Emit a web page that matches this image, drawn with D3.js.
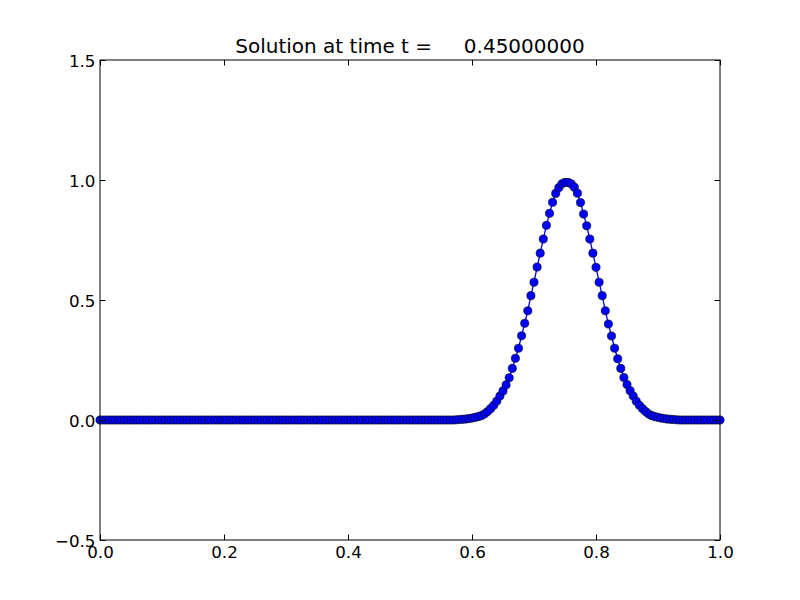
<!DOCTYPE html>
<html>
<head>
<meta charset="utf-8">
<script src="https://cdn.jsdelivr.net/npm/d3@7"></script>
<style>
  html, body { margin: 0; padding: 0; background: #ffffff; }
  svg text { font-family: "DejaVu Sans", sans-serif; fill: #000; }
</style>
</head>
<body>
<script>
const titleText = "Solution at time t =     0.45000000";

const xValues = [
  0.000,0.005,0.010,0.015,0.020,0.025,0.030,0.035,0.040,0.045,
  0.050,0.055,0.060,0.065,0.070,0.075,0.080,0.085,0.090,0.095,
  0.100,0.105,0.110,0.115,0.120,0.125,0.130,0.135,0.140,0.145,
  0.150,0.155,0.160,0.165,0.170,0.175,0.180,0.185,0.190,0.195,
  0.200,0.205,0.210,0.215,0.220,0.225,0.230,0.235,0.240,0.245,
  0.250,0.255,0.260,0.265,0.270,0.275,0.280,0.285,0.290,0.295,
  0.300,0.305,0.310,0.315,0.320,0.325,0.330,0.335,0.340,0.345,
  0.350,0.355,0.360,0.365,0.370,0.375,0.380,0.385,0.390,0.395,
  0.400,0.405,0.410,0.415,0.420,0.425,0.430,0.435,0.440,0.445,
  0.450,0.455,0.460,0.465,0.470,0.475,0.480,0.485,0.490,0.495,
  0.500,0.505,0.510,0.515,0.520,0.525,0.530,0.535,0.540,0.545,
  0.550,0.555,0.560,0.565,0.570,0.575,0.580,0.585,0.590,0.595,
  0.600,0.605,0.610,0.615,0.620,0.625,0.630,0.635,0.640,0.645,
  0.650,0.655,0.660,0.665,0.670,0.675,0.680,0.685,0.690,0.695,
  0.700,0.705,0.710,0.715,0.720,0.725,0.730,0.735,0.740,0.745,
  0.750,0.755,0.760,0.765,0.770,0.775,0.780,0.785,0.790,0.795,
  0.800,0.805,0.810,0.815,0.820,0.825,0.830,0.835,0.840,0.845,
  0.850,0.855,0.860,0.865,0.870,0.875,0.880,0.885,0.890,0.895,
  0.900,0.905,0.910,0.915,0.920,0.925,0.930,0.935,0.940,0.945,
  0.950,0.955,0.960,0.965,0.970,0.975,0.980,0.985,0.990,0.995,
  1.000
];

const yValues = [
  0,0,0,0,0,0,0,0,0,0,
  0,0,0,0,0,0,0,0,0,0,
  0,0,0,0,0,0,0,0,0,0,
  0,0,0,0,0,0,0,0,0,0,
  0,0,0,0,0,0,0,0,0,0,
  0,0,0,0,0,0,0,0,0,0,
  0,0,0,0,0,0,0,0,0,0,
  0,0,0,0,0,0,0,0,0,0,
  0,0,0,0,0,0,0,0,0,0,
  0,0,0,0,0,0,0,0,0,0,
  0,0,0,0,0,0,0,0,0,0,
  0,0,0,0,0,0.001,0.002,0.003,0.004,0.006,
  0.008,0.011,0.014,0.018,0.025,0.035,0.047,0.061,0.079,0.100,
  0.121,0.146,0.176,0.215,0.257,0.299,0.351,0.403,0.455,0.518,
  0.574,0.637,0.695,0.754,0.811,0.861,0.907,0.944,0.968,0.984,
  0.990,0.990,0.984,0.970,0.945,0.906,0.858,0.809,0.754,0.695,
  0.636,0.574,0.518,0.455,0.400,0.350,0.299,0.255,0.215,0.177,
  0.148,0.122,0.100,0.078,0.061,0.047,0.035,0.025,0.018,0.014,
  0.011,0.008,0.006,0.004,0.003,0.002,0.001,0,0,0,
  0,0,0,0,0,0,0,0,0,0,
  0
];

const xTicks = [0.0, 0.2, 0.4, 0.6, 0.8, 1.0];
const xTickLabels = ["0.0", "0.2", "0.4", "0.6", "0.8", "1.0"];
const yTicks = [-0.5, 0.0, 0.5, 1.0, 1.5];
const yTickLabels = ["\u22120.5", "0.0", "0.5", "1.0", "1.5"];

(function () {
const W = 800, H = 600;
const mLeft = 100, mRight = 720, mTop = 60, mBottom = 540;

const svg = d3.select("body").append("svg")
  .attr("width", W).attr("height", H);
svg.append("rect").attr("width", W).attr("height", H).attr("fill", "#fff");

const x = d3.scaleLinear().domain([0, 1]).range([mLeft, mRight]);
const y = d3.scaleLinear().domain([-0.5, 1.5]).range([mBottom, mTop]);

const data = xValues.map((v, i) => ({ x: v, y: yValues[i] }));

svg.append("clipPath").attr("id", "clip")
  .append("rect").attr("x", mLeft - 5).attr("y", mTop)
  .attr("width", mRight - mLeft + 10).attr("height", mBottom - mTop);

const plot = svg.append("g").attr("clip-path", "url(#clip)");

plot.append("path")
  .datum(data)
  .attr("fill", "none")
  .attr("stroke", "#0000ff")
  .attr("stroke-width", 1.3)
  .attr("d", d3.line().x(d => x(d.x)).y(d => y(d.y)));

plot.selectAll("circle")
  .data(data)
  .enter().append("circle")
  .attr("cx", d => x(d.x))
  .attr("cy", d => y(d.y))
  .attr("r", 4.1)
  .attr("fill", "#0000ff")
  .attr("stroke", "#000")
  .attr("stroke-width", 0.6);

const tickLen = 5.5;
const fmtX = (d) => xTickLabels[xTicks.indexOf(d)];
const fmtY = (d) => yTickLabels[yTicks.indexOf(d)];

const axB = svg.append("g").attr("transform", `translate(0,${mBottom})`)
  .call(d3.axisBottom(x).tickValues(xTicks).tickFormat(fmtX).tickSizeInner(-tickLen).tickSizeOuter(0).tickPadding(0));
const axT = svg.append("g").attr("transform", `translate(0,${mTop})`)
  .call(d3.axisTop(x).tickValues(xTicks).tickFormat(() => "").tickSizeInner(-tickLen).tickSizeOuter(0));
const axL = svg.append("g").attr("transform", `translate(${mLeft},0)`)
  .call(d3.axisLeft(y).tickValues(yTicks).tickFormat(fmtY).tickSizeInner(-tickLen).tickSizeOuter(0).tickPadding(0));
const axR = svg.append("g").attr("transform", `translate(${mRight},0)`)
  .call(d3.axisRight(y).tickValues(yTicks).tickFormat(() => "").tickSizeInner(-tickLen).tickSizeOuter(0));

[axB, axT, axL, axR].forEach(g => {
  g.select(".domain").remove();
  g.selectAll(".tick line").attr("stroke", "#000").attr("stroke-width", 1);
});

axB.selectAll(".tick text")
  .attr("font-size", "16.7px")
  .attr("font-family", "DejaVu Sans")
  .attr("y", 17.5).attr("dy", 0);
axL.selectAll(".tick text")
  .attr("font-size", "16.7px")
  .attr("font-family", "DejaVu Sans")
  .attr("x", -4.5).attr("dy", "0.36em");

svg.append("rect")
  .attr("x", mLeft).attr("y", mTop)
  .attr("width", mRight - mLeft).attr("height", mBottom - mTop)
  .attr("fill", "none").attr("stroke", "#000").attr("stroke-width", 1);

svg.append("text")
  .attr("x", (mLeft + mRight) / 2)
  .attr("y", 53)
  .attr("text-anchor", "middle")
  .attr("font-size", "20px")
  .style("white-space", "pre")
  .attr("xml:space", "preserve")
  .text(titleText);
})();
</script>
</body>
</html>
